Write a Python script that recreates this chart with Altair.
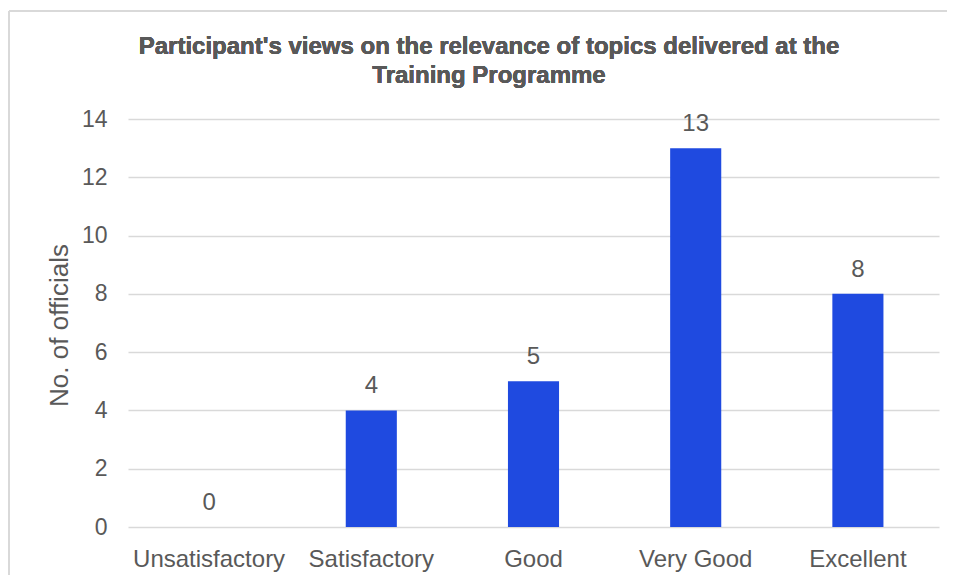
import altair as alt
import pandas as pd

categories = ["Unsatisfactory", "Satisfactory", "Good", "Very Good", "Excellent"]
values = [0, 4, 5, 13, 8]
title_lines = ["Participant's views on the relevance of topics delivered at the",
               "Training Programme"]

df = pd.DataFrame({"category": categories, "value": values})

FONT = "Liberation Sans"
GRAY = "#595959"

base = alt.Chart(df).encode(
    x=alt.X("category:N", sort=categories,
            scale=alt.Scale(paddingInner=0.685, paddingOuter=0.3425),
            axis=alt.Axis(title=None, labelAngle=0, labelFontSize=24, labelColor=GRAY,
                          labelFont=FONT, ticks=False, domain=False, labelPadding=39,
                          labelBaseline="alphabetic", labelOverlap=False)),
    y=alt.Y("value:Q", scale=alt.Scale(domain=[0, 14]),
            axis=alt.Axis(title="No. of officials", values=[0, 2, 4, 6, 8, 10, 12, 14],
                          titleFontSize=26, titleFont=FONT, titleColor=GRAY,
                          titleFontWeight="normal", titleX=-69, titleY=206,
                          titleBaseline="middle", titleAngle=-90,
                          labelFontSize=23, labelColor=GRAY, labelFont=FONT,
                          ticks=False, domain=False, labelPadding=21,
                          gridColor="#d9d9d9", gridWidth=1.5)),
)

bars = base.mark_bar(color="#1f4ae0")

labels = base.mark_text(
    fontSize=24, font=FONT, color=GRAY, baseline="middle", dy=-24).encode(text="value:Q")

title = alt.Chart(df).mark_text(
    font=FONT, fontSize=24, fontWeight="bold", color=GRAY, align="center",
    baseline="alphabetic", lineHeight=29).encode(
    x=alt.value(361), y=alt.value(-65), text=alt.value(title_lines))

border_top = alt.Chart(df).mark_rule(color="#d9d9d9", strokeWidth=2).encode(
    x=alt.value(-119), x2=alt.value(900), y=alt.value(-108))
border_left = alt.Chart(df).mark_rule(color="#d9d9d9", strokeWidth=2).encode(
    x=alt.value(-119), y=alt.value(-108), y2=alt.value(600))

chart = alt.layer(bars, labels, title, border_top, border_left).properties(
    width=811, height=408,
    padding={"left": 120, "top": 111, "right": 8, "bottom": 48},
    autosize=alt.AutoSizeParams(type="none"),
).configure_view(stroke=None)

chart.save("out.html", embed_options={"renderer": "svg", "actions": False})
